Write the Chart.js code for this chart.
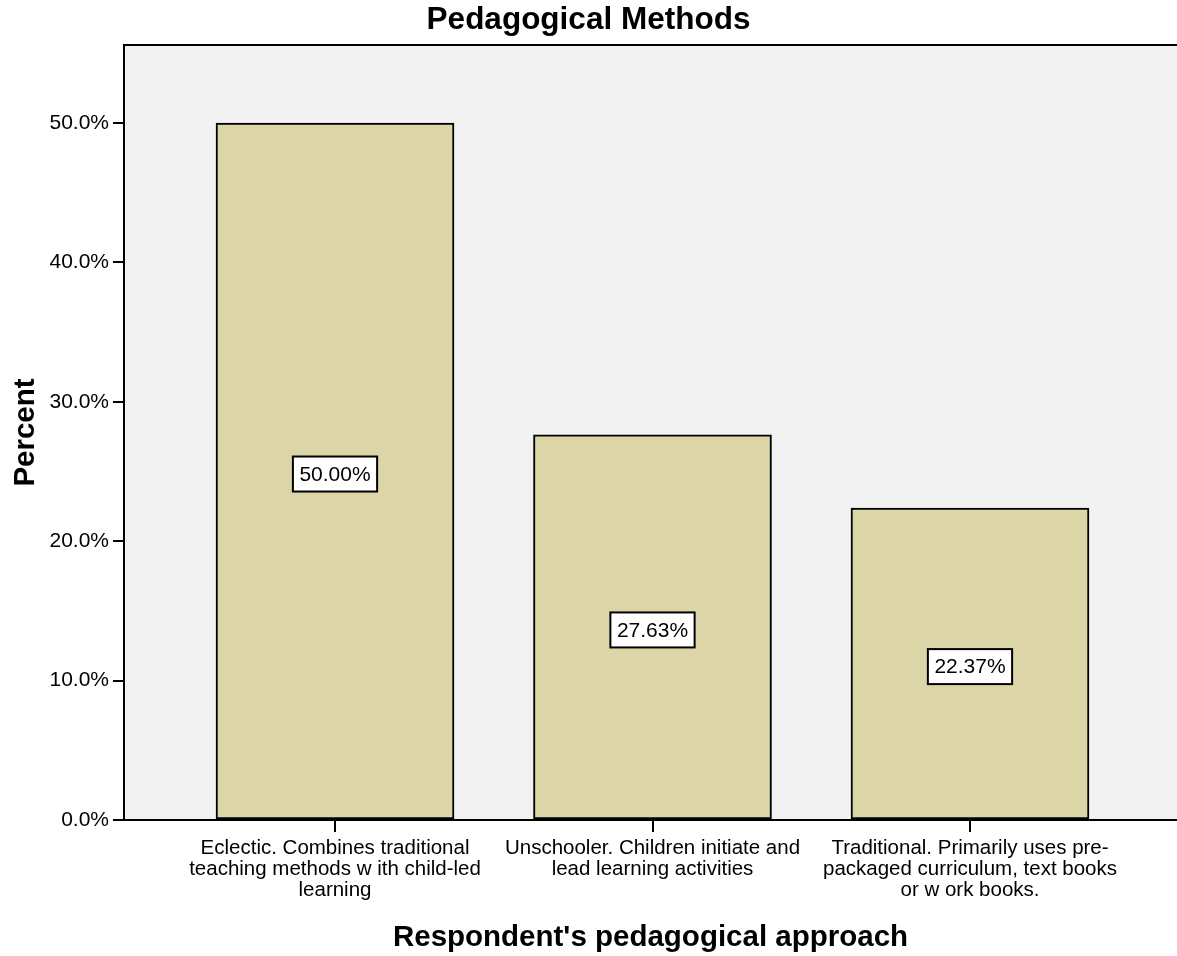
<!DOCTYPE html>
<html>
<head>
<meta charset="utf-8">
<script src="https://cdn.jsdelivr.net/npm/chart.js@4/dist/chart.umd.min.js"></script>
<style>
  html, body { margin: 0; padding: 0; background: #ffffff; }
  #wrap { width: 1177px; height: 956px; }
</style>
</head>
<body>
<div id="wrap"><canvas id="c" width="1177" height="956"></canvas></div>
<script>
// Category labels (wrapped as drawn under each bar)
const categories = [
  ["Eclectic. Combines traditional", "teaching methods w ith child-led", "learning"],
  ["Unschooler. Children initiate and", "lead learning activities"],
  ["Traditional. Primarily uses pre-", "packaged curriculum, text books", "or w ork books."]
];
// Share of respondents per approach (%)
const percentValues = [50.00, 27.63, 22.37];
// Y axis tick positions (%)
const yTickValues = [0, 10, 20, 30, 40, 50];

const FONT = "'Liberation Sans', Arial, Helvetica, sans-serif";

// Light grey plot panel behind the bars and a top frame line
const panelPlugin = {
  id: 'panel',
  beforeDraw(chart) {
    const { ctx, chartArea: a } = chart;
    ctx.save();
    ctx.fillStyle = '#f2f2f2';
    ctx.fillRect(a.left, a.top, a.right - a.left, a.bottom - a.top);
    ctx.restore();
  },
  afterDraw(chart) {
    const { ctx, chartArea: a } = chart;
    ctx.save();
    ctx.strokeStyle = '#000';
    ctx.lineWidth = 2;
    ctx.beginPath();
    ctx.moveTo(a.left - 1, a.top);
    ctx.lineTo(a.right, a.top);
    ctx.stroke();
    ctx.restore();
  }
};

// Boxed value labels in the middle of each bar
const valueBoxPlugin = {
  id: 'valueBoxes',
  afterDatasetsDraw(chart) {
    const { ctx } = chart;
    const meta = chart.getDatasetMeta(0);
    ctx.save();
    ctx.font = '21px ' + FONT;
    ctx.textAlign = 'center';
    ctx.textBaseline = 'middle';
    meta.data.forEach((bar, i) => {
      const text = percentValues[i].toFixed(2) + '%';
      const w = ctx.measureText(text).width + 13;
      const h = 35;
      const cx = bar.x;
      const cy = (bar.y + bar.base) / 2 + 3;
      ctx.fillStyle = '#ffffff';
      ctx.fillRect(cx - w / 2, cy - h / 2, w, h);
      ctx.strokeStyle = '#000';
      ctx.lineWidth = 2;
      ctx.strokeRect(cx - w / 2, cy - h / 2, w, h);
      ctx.fillStyle = '#000';
      ctx.fillText(text, cx, cy + 1);
    });
    ctx.restore();
  }
};

new Chart(document.getElementById('c'), {
  type: 'bar',
  data: {
    datasets: [{
      data: percentValues.map((v, i) => ({ x: i, y: v })),
      backgroundColor: '#dcd5a8',
      borderColor: '#000000',
      borderWidth: 2,
      borderSkipped: false,
      barThickness: 238
    }]
  },
  options: {
    responsive: false,
    animation: false,
    devicePixelRatio: 1,
    layout: { padding: 0 },
    plugins: {
      legend: { display: false },
      tooltip: { enabled: false },
      title: {
        display: true,
        text: 'Pedagogical Methods',
        color: '#000',
        font: { family: FONT, size: 31.5, weight: 'bold' },
        padding: { top: 1, bottom: 6.2 }
      }
    },
    scales: {
      x: {
        type: 'linear',
        offset: false,
        min: -0.6646,
        max: 2.652,
        afterBuildTicks(scale) {
          scale.ticks = categories.map((_, i) => ({ value: i }));
        },
        afterFit(scale) { scale.height = 136; },
        border: { display: true, color: '#000', width: 2 },
        grid: { offset: false, drawOnChartArea: false, color: '#000', lineWidth: 2, tickLength: 12 },
        ticks: {
          autoSkip: false,
          maxRotation: 0,
          minRotation: 0,
          padding: 6,
          color: '#000',
          font: { family: FONT, size: 20.5, lineHeight: 1.03 },
          callback: (v) => categories[v]
        },
        title: {
          display: true,
          text: "Respondent's pedagogical approach",
          color: '#000',
          font: { family: FONT, size: 29.5, weight: 'bold' },
          padding: { top: 0, bottom: 0 }
        }
      },
      y: {
        min: 0,
        max: 55.6,
        afterBuildTicks(scale) {
          scale.ticks = yTickValues.map(v => ({ value: v }));
        },
        afterFit(scale) { scale.width = 124; },
        border: { display: true, color: '#000', width: 2 },
        grid: { drawOnChartArea: false, color: '#000', lineWidth: 2, tickLength: 11 },
        ticks: {
          padding: 4,
          color: '#000',
          font: { family: FONT, size: 21 },
          callback: (v) => v.toFixed(1) + '%'
        },
        title: {
          display: true,
          text: 'Percent',
          color: '#000',
          font: { family: FONT, size: 29.5, weight: 'bold' },
          padding: { top: 8, bottom: 0 }
        }
      }
    }
  },
  plugins: [panelPlugin, valueBoxPlugin]
});
</script>
</body>
</html>
